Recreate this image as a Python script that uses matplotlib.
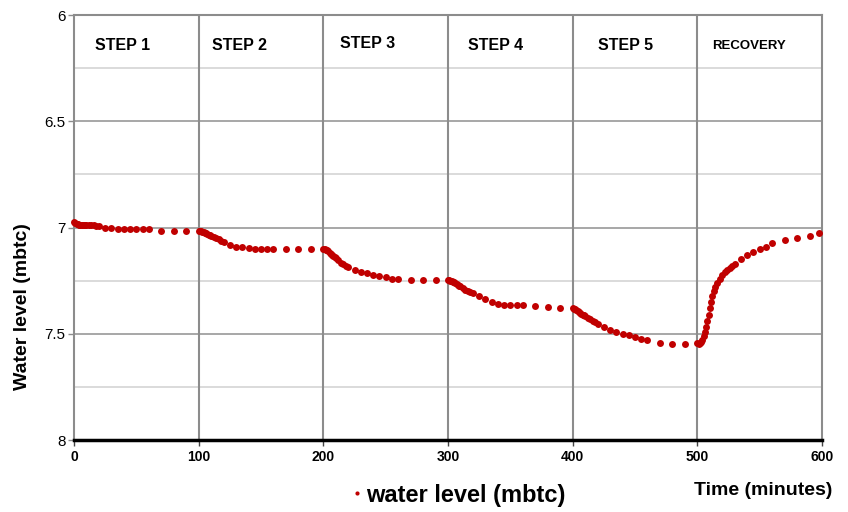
import matplotlib
matplotlib.use("Agg")
import matplotlib.pyplot as plt

# ---- data ----
step1_t = [0,1,2,3,4,5,6,7,8,9,10,12,14,16,18,20,25,30,35,40,45,50,55,60,70,80,90]
step1_v = [6.975,6.978,6.982,6.985,6.987,6.988,6.989,6.99,6.99,6.99,6.99,6.99,6.99,6.99,6.992,6.995,
           7.0,7.003,7.005,7.005,7.006,7.007,7.008,7.008,7.015,7.015,7.015]
step2_t = [100,101,102,103,104,105,106,107,108,109,110,112,114,116,118,120,125,130,135,140,145,150,155,160,170,180,190]
step2_v = [7.015,7.016,7.018,7.02,7.022,7.025,7.028,7.03,7.033,7.036,7.04,7.045,7.05,7.056,7.062,7.068,
           7.08,7.09,7.092,7.098,7.1,7.1,7.1,7.1,7.1,7.1,7.1]
step3_t = [200,201,202,203,204,205,206,207,208,209,210,212,214,216,218,220,225,230,235,240,245,250,255,260,270,280,290]
step3_v = [7.1,7.102,7.105,7.108,7.112,7.118,7.124,7.13,7.135,7.14,7.145,7.155,7.165,7.172,7.18,7.188,
           7.2,7.21,7.215,7.222,7.228,7.235,7.24,7.24,7.245,7.245,7.245]
step4_t = [300,301,302,303,304,305,306,307,308,309,310,312,314,316,318,320,325,330,335,340,345,350,355,360,370,380,390]
step4_v = [7.245,7.247,7.25,7.252,7.255,7.258,7.262,7.265,7.27,7.273,7.277,7.285,7.292,7.298,7.305,7.31,
           7.32,7.335,7.35,7.36,7.365,7.365,7.365,7.365,7.37,7.375,7.38]
step5_t = [400,401,402,403,404,405,406,407,408,409,410,412,414,416,418,420,425,430,435,440,445,450,455,460,470,480,490]
step5_v = [7.38,7.382,7.385,7.388,7.392,7.396,7.4,7.405,7.41,7.414,7.418,7.425,7.432,7.44,7.447,7.453,
           7.468,7.48,7.49,7.5,7.508,7.515,7.525,7.53,7.545,7.55,7.55]
recov_t = [500,501,502,503,504,505,506,507,508,509,510,511,512,513,514,516,518,520,522,524,526,528,530,
           535,540,545,550,555,560,570,580,590,598]
recov_v = [7.545,7.548,7.545,7.54,7.53,7.51,7.49,7.47,7.44,7.41,7.38,7.35,7.32,7.3,7.28,7.26,7.24,7.225,
           7.21,7.2,7.19,7.18,7.17,7.15,7.13,7.115,7.1,7.09,7.075,7.058,7.048,7.04,7.025]

time = step1_t + step2_t + step3_t + step4_t + step5_t + recov_t
level = step1_v + step2_v + step3_v + step4_v + step5_v + recov_v

step_labels = ["STEP 1", "STEP 2", "STEP 3", "STEP 4", "STEP 5", "RECOVERY"]
step_label_x = [17, 111, 213, 316, 420, 512]

x_ticks = [0, 100, 200, 300, 400, 500, 600]
y_ticks = [6, 6.5, 7, 7.5, 8]

# ---- figure ----
plt.rcParams['font.family'] = ['Liberation Sans', 'DejaVu Sans']
fig = plt.figure(figsize=(8.48, 5.12), dpi=100)
ax = fig.add_axes([0.0873, 0.1406, 0.8820, 0.8301])

ax.set_xlim(0, 600)
ax.set_ylim(8, 6)

# grid
for yv in [6.25, 6.75, 7.25, 7.75]:
    ax.axhline(yv, color='#d4d4d4', lw=1.2, zorder=0)
for yv in [6.5, 7.0, 7.5]:
    ax.axhline(yv, color='#a0a0a0', lw=1.3, zorder=0)
for xv in [100, 200, 300, 400, 500]:
    ax.axvline(xv, color='#8c8c8c', lw=1.5, zorder=0)

for s in ['top', 'right', 'left']:
    ax.spines[s].set_color('#8c8c8c')
    ax.spines[s].set_linewidth(1.5)
ax.spines['bottom'].set_color('black')
ax.spines['bottom'].set_linewidth(2.5)

ax.plot(time, level, linestyle='none', marker='o', markersize=5.0,
        color='#c00000', markeredgewidth=0, label='water level (mbtc)', clip_on=False, zorder=3)

ax.set_xticks(x_ticks)
ax.set_xticklabels([str(v) for v in x_ticks], fontsize=10, fontweight='bold')
ax.set_yticks(y_ticks)
ax.set_yticklabels(['6', '6.5', '7', '7.5', '8'], fontsize=11)
ax.tick_params(axis='x', length=4, width=1, color='#444444', pad=3)
ax.tick_params(axis='y', length=4, width=1, color='#8c8c8c', pad=2)

fig.text(0.026, 0.402, 'Water level (mbtc)', fontsize=14, fontweight='bold',
         rotation=90, ha='center', va='center')

for lab, xv in zip(step_labels, step_label_x):
    fs = 9.5 if lab == 'RECOVERY' else 11.5
    yy = 6.135 if lab == 'STEP 3' else 6.145
    ax.text(xv, yy, lab, fontsize=fs, fontweight='bold', ha='left', va='center')

fig.text(0.8995, 0.042, 'Time (minutes)', fontsize=14, fontweight='bold', ha='center', va='center')

leg = fig.legend(loc='center', bbox_to_anchor=(0.54, 0.033), frameon=False,
                 prop={'size': 17, 'weight': 'bold'}, handletextpad=0.1, markerscale=0.6,
                 handlelength=0.6)

fig.savefig('out.png', dpi=100)
